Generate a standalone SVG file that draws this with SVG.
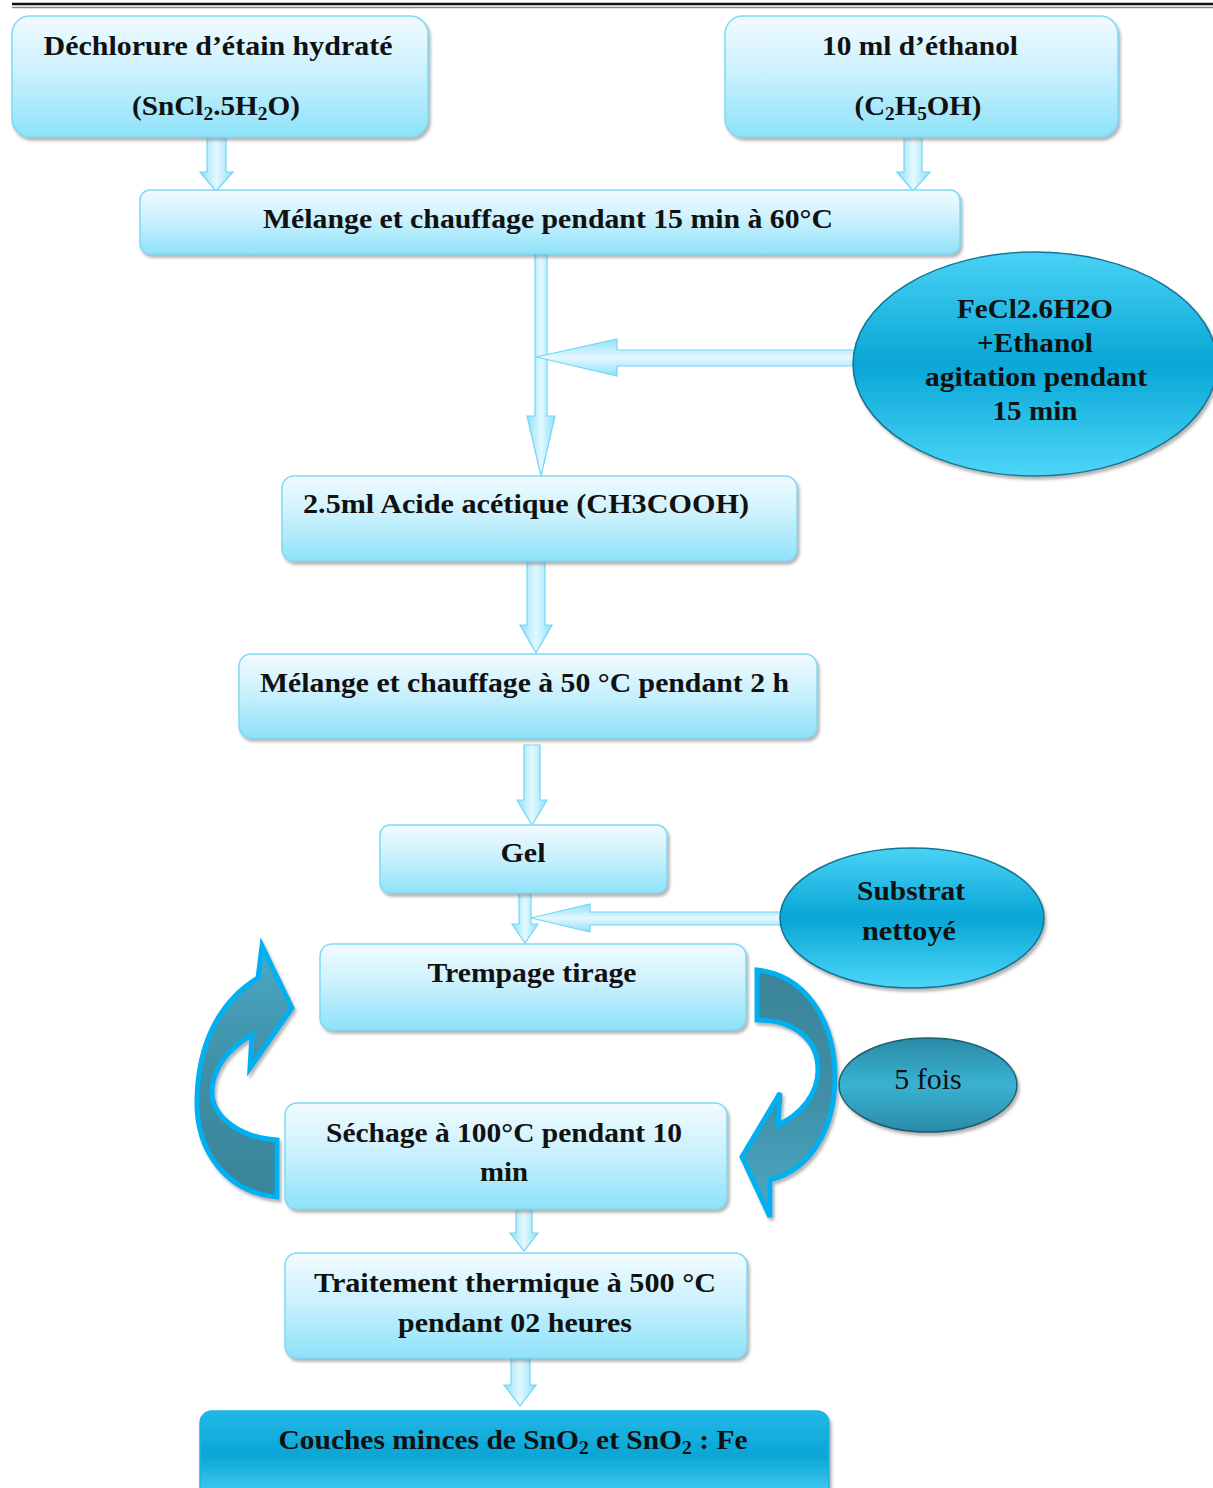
<svg xmlns="http://www.w3.org/2000/svg" width="1213" height="1488" viewBox="0 0 1213 1488">
<defs>
<linearGradient id="gBox" x1="0" y1="0" x2="0" y2="1">
<stop offset="0" stop-color="#f2fbff"/><stop offset="0.45" stop-color="#ccf1fd"/><stop offset="1" stop-color="#8ee2f9"/>
</linearGradient>
<linearGradient id="gDark" x1="0" y1="0" x2="0" y2="1">
<stop offset="0" stop-color="#22b8e6"/><stop offset="0.5" stop-color="#0aa6d6"/><stop offset="1" stop-color="#4fd3f5"/>
</linearGradient>
<linearGradient id="gEll" x1="0" y1="0" x2="0" y2="1">
<stop offset="0" stop-color="#4ad2f5"/><stop offset="0.5" stop-color="#08a6d6"/><stop offset="1" stop-color="#4dd6f8"/>
</linearGradient>
<linearGradient id="gFois" x1="0" y1="0" x2="0" y2="1">
<stop offset="0" stop-color="#2b8aa6"/><stop offset="0.5" stop-color="#39b2d2"/><stop offset="1" stop-color="#2a8ba8"/>
</linearGradient>
<linearGradient id="gArrV" x1="0" y1="0" x2="1" y2="0">
<stop offset="0" stop-color="#8fe1f8"/><stop offset="0.5" stop-color="#e4f8ff"/><stop offset="1" stop-color="#8fe1f8"/>
</linearGradient>
<linearGradient id="gArrH" x1="0" y1="0" x2="0" y2="1">
<stop offset="0" stop-color="#8fe1f8"/><stop offset="0.5" stop-color="#e4f8ff"/><stop offset="1" stop-color="#8fe1f8"/>
</linearGradient>
<linearGradient id="gCurve" x1="0" y1="0" x2="0" y2="1">
<stop offset="0" stop-color="#4aa9c6"/><stop offset="0.5" stop-color="#3f8fa6"/><stop offset="1" stop-color="#3a8398"/>
</linearGradient>
<linearGradient id="gCurve2" x1="0" y1="0" x2="0" y2="1">
<stop offset="0" stop-color="#3a8398"/><stop offset="0.5" stop-color="#3f8fa6"/><stop offset="1" stop-color="#4aa9c6"/>
</linearGradient>
<filter id="sh" x="-10%" y="-10%" width="125%" height="130%">
<feDropShadow dx="2" dy="3" stdDeviation="1.5" flood-color="#777" flood-opacity="0.55"/>
</filter>
</defs>
<style>
.box{fill:url(#gBox);stroke:#7fdaf6;stroke-width:1.5;filter:url(#sh)}
.dark{fill:url(#gDark);stroke:#1ab4e4;stroke-width:1.5;filter:url(#sh)}
.ell{fill:url(#gEll);stroke:#0f7795;stroke-width:1.5;filter:url(#sh)}
.arrv{fill:url(#gArrV);stroke:#72d6f5;stroke-width:1.2}
.arrh{fill:url(#gArrH);stroke:#72d6f5;stroke-width:1.2}
.curve{stroke:#00b0f0;stroke-width:5;stroke-linejoin:miter;filter:url(#sh)}
.t{font-family:"Liberation Serif","DejaVu Serif",serif;font-weight:bold;font-size:27px;fill:#111}
.c{text-anchor:middle}
.sub{font-size:18px}
</style>
<line x1="12" y1="4" x2="1213" y2="4" stroke="#111" stroke-width="2.5"/>
<line x1="12" y1="7.5" x2="1213" y2="7.5" stroke="#888" stroke-width="1.5"/>

<g id="connectors">
<polygon class="arrv" points="207,137 226,137 226,172 233,172 216,191 200,172 207,172"/>
<polygon class="arrv" points="904,137 922,137 922,172 930,172 913,191 897,172 904,172"/>
<polygon class="arrv" points="535,254 547,254 547,416 555,416 541,476 527,416 535,416"/>
<polygon class="arrh" points="855,350 855,366 617,366 617,376 536,357 617,339 617,350"/>
<polygon class="arrv" points="527,561 545,561 545,625 552,625 536,653 520,625 527,625"/>
<polygon class="arrv" points="524,745 540,745 540,800 547,800 532,825 517,800 524,800"/>
<polygon class="arrv" points="519,893 531,893 531,924 538,924 525,943 512,924 519,924"/>
<polygon class="arrh" points="781,912 781,925 590,925 590,932 531,918 590,904 590,912"/>
<polygon class="arrv" points="516,1209 532,1209 532,1233 538,1233 524,1251 510,1233 516,1233"/>
<polygon class="arrv" points="511,1358 530,1358 530,1385 536,1385 520,1406 504,1385 511,1385"/>
</g>

<g id="loop-left">
<path class="curve" fill="url(#gCurve)" d="M 277,1197 C 225,1192 196,1150 197,1100 C 198,1040 222,1000 258,978 L 262,946 L 292,1008 L 250,1068 L 252,1035 C 228,1048 212,1070 212,1092 C 212,1117 240,1138 277,1140 Z"/>
</g>
<g id="loop-right">
<path class="curve" fill="url(#gCurve2)" d="M 757,970 C 805,975 835,1020 835,1077 C 835,1130 810,1170 770,1180 L 770,1217 L 742,1157 L 780,1093 L 778,1125 C 800,1115 818,1095 818,1070 C 818,1040 795,1020 757,1020 Z"/>
</g>

<g id="n1">
<rect class="box" x="12" y="16" width="416" height="121" rx="18"/>
<text class="t c" x="218" y="55" textLength="349" lengthAdjust="spacingAndGlyphs">Déchlorure d’étain hydraté</text>
<text class="t c" x="216" y="115" textLength="168" lengthAdjust="spacingAndGlyphs">(SnCl<tspan class="sub" dy="5">2</tspan><tspan dy="-5">.5H</tspan><tspan class="sub" dy="5">2</tspan><tspan dy="-5">O)</tspan></text>
</g>
<g id="n2">
<rect class="box" x="725" y="16" width="393" height="121" rx="18"/>
<text class="t c" x="920" y="55" textLength="196" lengthAdjust="spacingAndGlyphs">10 ml d’éthanol</text>
<text class="t c" x="918" y="115" textLength="127" lengthAdjust="spacingAndGlyphs">(C<tspan class="sub" dy="5">2</tspan><tspan dy="-5">H</tspan><tspan class="sub" dy="5">5</tspan><tspan dy="-5">OH)</tspan></text>
</g>
<g id="n3">
<rect class="box" x="140" y="190" width="820" height="64" rx="10"/>
<text class="t c" x="548" y="228" textLength="570" lengthAdjust="spacingAndGlyphs">Mélange et chauffage pendant 15 min à 60°C</text>
</g>
<g id="n4">
<ellipse class="ell" cx="1035" cy="364" rx="182" ry="112"/>
<text class="t c" x="1035" y="318" textLength="156" lengthAdjust="spacingAndGlyphs">FeCl2.6H2O</text>
<text class="t c" x="1035" y="352" textLength="116" lengthAdjust="spacingAndGlyphs">+Ethanol</text>
<text class="t c" x="1036" y="386" textLength="222" lengthAdjust="spacingAndGlyphs">agitation pendant</text>
<text class="t c" x="1035" y="420" textLength="85" lengthAdjust="spacingAndGlyphs">15 min</text>
</g>
<g id="n5">
<rect class="box" x="282" y="476" width="515" height="85" rx="12"/>
<text class="t" x="303" y="513" textLength="446" lengthAdjust="spacingAndGlyphs">2.5ml  Acide acétique (CH3COOH)</text>
</g>
<g id="n6">
<rect class="box" x="239" y="654" width="578" height="84" rx="12"/>
<text class="t" x="260" y="692" textLength="529" lengthAdjust="spacingAndGlyphs">Mélange et chauffage à 50 °C pendant 2 h</text>
</g>
<g id="n7">
<rect class="box" x="380" y="825" width="287" height="68" rx="10"/>
<text class="t c" x="523" y="862" textLength="45" lengthAdjust="spacingAndGlyphs">Gel</text>
</g>
<g id="n8">
<ellipse class="ell" cx="912" cy="918" rx="132" ry="70"/>
<text class="t c" x="911" y="900" textLength="108" lengthAdjust="spacingAndGlyphs">Substrat</text>
<text class="t c" x="909" y="940" textLength="94" lengthAdjust="spacingAndGlyphs">nettoyé</text>
</g>
<g id="n9">
<rect class="box" x="320" y="944" width="426" height="86" rx="12"/>
<text class="t c" x="532" y="982" textLength="209" lengthAdjust="spacingAndGlyphs">Trempage tirage</text>
</g>
<g id="n10">
<rect class="box" x="285" y="1103" width="442" height="106" rx="12"/>
<text class="t c" x="504" y="1142" textLength="356" lengthAdjust="spacingAndGlyphs">Séchage à 100°C pendant 10</text>
<text class="t c" x="504" y="1181" textLength="48" lengthAdjust="spacingAndGlyphs">min</text>
</g>
<g id="n11">
<ellipse cx="928" cy="1085" rx="89" ry="47" fill="url(#gFois)" stroke="#1b5d70" stroke-width="1.5" filter="url(#sh)"/>
<text x="928" y="1089" text-anchor="middle" font-family="Liberation Serif, serif" font-size="30" fill="#111">5 fois</text>
</g>
<g id="n12">
<rect class="box" x="285" y="1253" width="462" height="105" rx="12"/>
<text class="t c" x="515" y="1292" textLength="402" lengthAdjust="spacingAndGlyphs">Traitement thermique  à 500 °C</text>
<text class="t c" x="515" y="1332" textLength="234" lengthAdjust="spacingAndGlyphs">pendant 02 heures</text>
</g>
<g id="n13">
<rect class="dark" x="200" y="1411" width="629" height="90" rx="12"/>
<text class="t c" x="513" y="1449" textLength="469" lengthAdjust="spacingAndGlyphs">Couches minces de SnO<tspan class="sub" dy="5">2</tspan><tspan dy="-5"> et SnO</tspan><tspan class="sub" dy="5">2</tspan><tspan dy="-5"> : Fe</tspan></text>
</g>
</svg>
